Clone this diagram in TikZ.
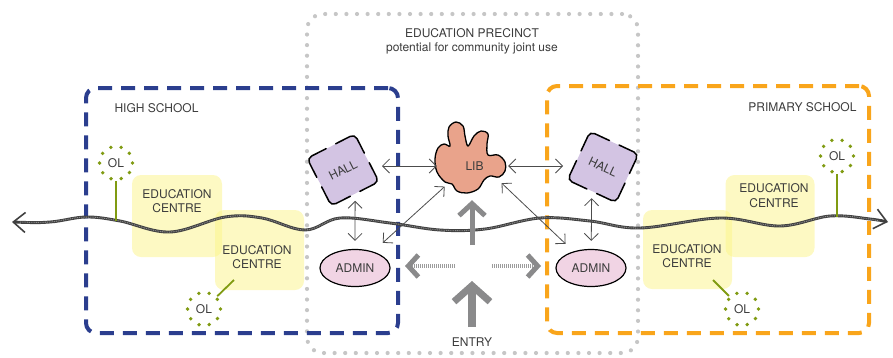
\documentclass[tikz,border=0pt]{standalone}
\usepackage{fontspec}
\setsansfont{TeX Gyre Heros}
\usepackage{xcolor}
\usepackage{tikz}
\usetikzlibrary{
    positioning,
    arrows.meta,
    shapes.geometric,
    calc
}
\definecolor{hsnavy}{HTML}{2B3E8E}
\definecolor{psorange}{HTML}{F9A51B}
\definecolor{precinctgrey}{HTML}{C6C6C6}
\definecolor{ecyellow}{HTML}{FBF487}
\definecolor{olgreen}{HTML}{809B12}
\definecolor{hallpurple}{HTML}{D3C4E3}
\definecolor{libsalmon}{HTML}{E9A38B}
\definecolor{adminpink}{HTML}{F1D4E4}
\definecolor{flowgrey}{HTML}{8A8A8B}
\definecolor{inkgrey}{HTML}{3C3C3C}
\newcommand{\planfont}{\sffamily\fontsize{12}{14.5}\selectfont}
\tikzset{
    schoolframe/.style={
        draw, rounded corners=10pt, line width=4pt,
        dash pattern=on 14pt off 9pt
    },
    precinctframe/.style={
        draw=precinctgrey, rounded corners=16pt, line width=4.2pt,
        dash pattern=on 0pt off 10.6pt, line cap=round
    },
    ecbox/.style={
        rectangle, rounded corners=9pt, fill=ecyellow, fill opacity=0.5
    },
    eclabel/.style={
        align=center, font=\planfont, text=inkgrey
    },
    olnode/.style={
        circle, draw=olgreen, line width=3.8pt, minimum size=33pt,
        dash pattern=on 0pt off 10.37pt, line cap=round,
        inner sep=0pt, font=\planfont, text=inkgrey
    },
    olstem/.style={
        draw=olgreen, line width=1.8pt
    },
    link/.style={
        {Straight Barb[length=7pt,width=14pt]}-{Straight Barb[length=7pt,width=14pt]},
        draw=black!70, line width=0.8pt
    }
}

\begin{document}
\begin{tikzpicture}[
        x=1pt, y=-1pt,
        hall/.style={rectangle, fill=hallpurple, rounded corners=5pt,
            minimum size=53pt, inner sep=0pt, font=\planfont, text=inkgrey},
        hall_edge/.style={draw=black, line width=1.5pt, rounded corners=5pt, line cap=round},
        admin/.style={ellipse, draw=black, line width=1.2pt, fill=adminpink, minimum width=70pt,
            minimum height=37pt, inner sep=0pt, font=\planfont, text=inkgrey},
        lib_zone/.style={circle, minimum size=68pt, inner sep=0pt, font=\planfont, text=inkgrey},
        spine/.style={line width=2.9pt, draw=black!75,
            {Straight Barb[length=12pt,width=20pt,line width=1.6pt]}-{Straight Barb[length=12pt,width=20pt,line width=1.6pt]}},
        spine_stitch/.style={line width=1pt, draw=white!55!black, dash pattern=on 0.9pt off 0.9pt},
        main_flow/.style={draw=flowgrey, line width=5pt,
            -{Straight Barb[length=12pt,width=26pt,line width=5pt]}},
        entry_flow/.style={draw=flowgrey, line width=8pt,
            -{Straight Barb[length=16pt,width=36pt,line width=7pt]}},
        side_flow/.style={draw=flowgrey!85, line width=4pt, dash pattern=on 1pt off 1pt,
            -{Straight Barb[length=10pt,width=22pt,line width=5pt,color=flowgrey]}},
        zone_title/.style={font=\planfont, text=inkgrey}
    ]
    \useasboundingbox (0,0) rectangle (893,357);

    % PRECINCT
    \node[precinctframe, minimum width=331pt, minimum height=339pt] (precinct) at (472.5,183.5) {};
    \node[zone_title] (precinct_title) at (472,33) {EDUCATION PRECINCT};
    \node[zone_title] (precinct_sub) at (472,48) {potential for community joint use};

    % EDUCATION CENTRES
    \node[ecbox, minimum width=90pt, minimum height=82pt] (hs_ec_a) at (177,216) {};
    \node[ecbox, minimum width=89pt, minimum height=80pt] (hs_ec_b) at (259.5,250) {};
    \node[ecbox, minimum width=89pt, minimum height=79pt] (ps_ec_a) at (687.5,249.5) {};
    \node[ecbox, minimum width=89pt, minimum height=82pt] (ps_ec_b) at (770,216) {};
    \node[eclabel] (hs_ec_a_txt) at (177,201) {EDUCATION\\CENTRE};
    \node[eclabel] (hs_ec_b_txt) at (257,257) {EDUCATION\\CENTRE};
    \node[eclabel] (ps_ec_a_txt) at (687,256) {EDUCATION\\CENTRE};
    \node[eclabel] (ps_ec_b_txt) at (774,195.5) {EDUCATION\\CENTRE};

    % SCHOOLS
    \node[schoolframe, draw=hsnavy, minimum width=312pt, minimum height=245pt] (high_school) at (242,210.5) {};
    \node[schoolframe, draw=psorange, minimum width=322pt, minimum height=247pt] (primary_school) at (708,209.5) {};
    \node[zone_title, anchor=west] (hs_title) at (111,108) {HIGH SCHOOL};
    \node[zone_title, anchor=east] (ps_title) at (860,107) {PRIMARY SCHOOL};

    % Spine path through both campuses
    \draw[spine] plot[smooth, tension=0.6] coordinates {(12,222) (50,222) (86,217) (120,221) (170,232) (225,217)
        (262,218) (305,230) (340,218) (390,223) (440,230) (485,229) (540,218) (590,221) (640,228)
        (720,218) (780,226) (830,216) (870,219) (888,222)};
    \draw[spine_stitch] plot[smooth, tension=0.6] coordinates {(20,222) (50,222) (86,217) (120,221) (170,232) (225,217)
        (262,218) (305,230) (340,218) (390,223) (440,230) (485,229) (540,218) (590,221) (640,228)
        (720,218) (780,226) (830,216) (870,219) (880,222)};

    % Outdoor learning
    \node[olnode] (hs_ol_a) at (116,163) {OL};
    \node[olnode] (hs_ol_b) at (204,309) {OL};
    \node[olnode] (ps_ol_a) at (837,156) {OL};
    \node[olnode] (ps_ol_b) at (742,309) {OL};
    \coordinate (hs_stem_a) at (116,221);
    \coordinate (hs_stem_b) at (234,280);
    \coordinate (ps_stem_a) at (837,216.5);
    \coordinate (ps_stem_b) at (713,280);
    \draw[olstem] (hs_ol_a) -- (hs_stem_a);
    \draw[olstem] (hs_ol_b) -- (hs_stem_b);
    \draw[olstem] (ps_ol_a) -- (ps_stem_a);
    \draw[olstem] (ps_ol_b) -- (ps_stem_b);

    % SHARED FACILITIES
    \node[hall, rotate=27] (hall_hs) at (343,170) {HALL};
    \node[hall, rotate=-25] (hall_ps) at (603,167) {HALL};
    % broken outline: only the corners are inked
    \foreach \h in {hall_hs, hall_ps} {
        \foreach \c/\a/\b in {north west/south west/north east, north east/north west/south east,
                south east/north east/south west, south west/south east/north west} {
            \draw[hall_edge] ($(\h.\c)!0.4!(\h.\a)$) -- (\h.\c) -- ($(\h.\c)!0.4!(\h.\b)$);
        }
    }
    % library blob: top, upper-right, right, bottom and left lobes
    \draw[line width=1.3pt, fill=libsalmon] plot[smooth cycle, tension=0.6] coordinates {(449,127) (456,122)
        (463,126) (465,136) (468,146) (474,136) (481,131) (488,134) (487,144) (488,155) (498,155)
        (505,162) (505,171) (499,177) (490,176) (484,180) (478,189) (467,193) (457,191) (452,184)
        (445,182) (437,172) (435,159) (438,148) (444,144) (450,146) (448,136)};
    \node[lib_zone] (lib) at (472,166) {\hspace{5pt}LIB};
    \node[admin] (admin_hs) at (355,268) {ADMIN};
    \node[admin] (admin_ps) at (591,268) {ADMIN};

    % Links
    \draw[link, shorten <=39pt, shorten >=1pt] (lib -| hall_hs) -- (lib);
    \draw[link, shorten <=2pt, shorten >=40pt] (lib) -- (lib -| hall_ps);
    \draw[link, shorten <=7pt, shorten >=8pt] (hall_hs.south) -- (admin_hs);
    \draw[link, shorten <=7pt, shorten >=8pt] (hall_ps.south) -- (admin_ps);
    \draw[link, shorten >=13pt] (lib.-143) -- (admin_hs);
    \draw[link, shorten >=11pt] (lib.-30) -- (admin_ps);

    % Entry and circulation
    \node[zone_title] (entry) at (472,342) {ENTRY};
    \coordinate (gate) at (472,266);
    \draw[entry_flow, shorten <=7pt, shorten >=15pt] (entry) -- (gate);
    \draw[main_flow, shorten <=21pt] (gate) -- (lib.south);
    \draw[side_flow, shorten <=17pt, shorten >=5pt] (gate) -- (gate -| high_school.east);
    \draw[side_flow, shorten <=20pt, shorten >=4pt] (gate) -- (gate -| primary_school.west);

\end{tikzpicture}
\end{document}
